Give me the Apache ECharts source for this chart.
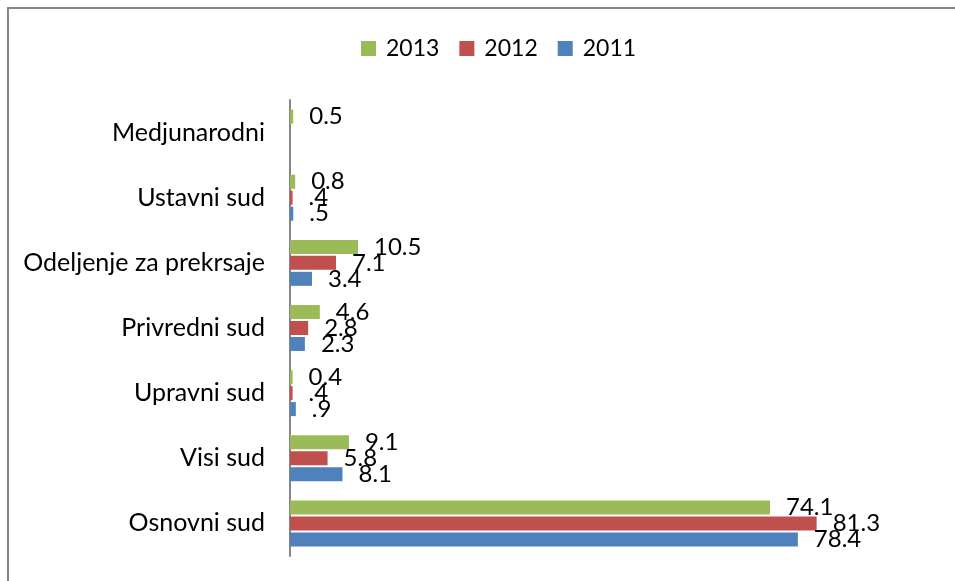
<!DOCTYPE html>
<html>
<head>
<meta charset="utf-8">
<script src="https://cdn.jsdelivr.net/npm/echarts@6/dist/echarts.min.js"></script>
<style>
html,body{margin:0;padding:0;background:#fff;}
#c{width:955px;height:581px;}
</style>
</head>
<body>
<div id="c"></div>
<script>
const categories = ['Osnovni sud', 'Visi sud', 'Upravni sud', 'Privredni sud', 'Odeljenje za prekrsaje', 'Ustavni sud', 'Medjunarodni'];
const legendOrder = ['2013', '2012', '2011'];
const values2011 = [78.4, 8.1, 0.9, 2.3, 3.4, 0.5, null];
const values2012 = [81.3, 5.8, 0.4, 2.8, 7.1, 0.4, null];
const values2013 = [74.1, 9.1, 0.4, 4.6, 10.5, 0.8, 0.5];
const labels2011 = ['78.4', '8.1', '.9', '2.3', '3.4', '.5', ''];
const labels2012 = ['81.3', '5.8', '.4', '2.8', '7.1', '.4', ''];
const labels2013 = ['74.1', '9.1', '0.4', '4.6', '10.5', '0.8', '0.5'];

const FONT = 'Lato, "Open Sans", sans-serif';
function mkSeries(name, data, labels, color) {
  return {
    name: name,
    type: 'bar',
    data: data,
    barWidth: 14,
    barGap: '14%',
    itemStyle: { color: color },
    label: {
      show: true,
      position: 'right',
      distance: 16,
      color: '#000',
      fontFamily: FONT,
      fontSize: 24,
      formatter: function (p) { return labels[p.dataIndex]; }
    }
  };
}

const chart = echarts.init(document.getElementById('c'));
chart.setOption({
  animation: false,
  backgroundColor: '#fff',
  graphic: [{
    type: 'polyline',
    shape: { points: [[8, 581], [8, 8], [955, 8]] },
    style: { stroke: '#868686', lineWidth: 2, fill: null }
  }],
  legend: {
    data: legendOrder,
    top: 32,
    left: 356,
    itemWidth: 15,
    itemHeight: 15,
    itemGap: 20,
    icon: 'rect',
    textStyle: { fontFamily: FONT, fontSize: 23, color: '#000', padding: [0, 0, 0, 5] }
  },
  grid: { left: 290, right: 82, top: 100, bottom: 25 },
  xAxis: { type: 'value', min: 0, max: 90, show: false },
  yAxis: {
    type: 'category',
    data: categories,
    axisLine: { show: true, lineStyle: { color: '#868686', width: 2 } },
    axisTick: { show: false },
    axisLabel: { color: '#000', fontFamily: FONT, fontSize: 25, margin: 25 }
  },
  series: [
    mkSeries('2013', values2013, labels2013, '#9BBB59'),
    mkSeries('2012', values2012, labels2012, '#C0504D'),
    mkSeries('2011', values2011, labels2011, '#4F81BD')
  ]
});
</script>
</body>
</html>
